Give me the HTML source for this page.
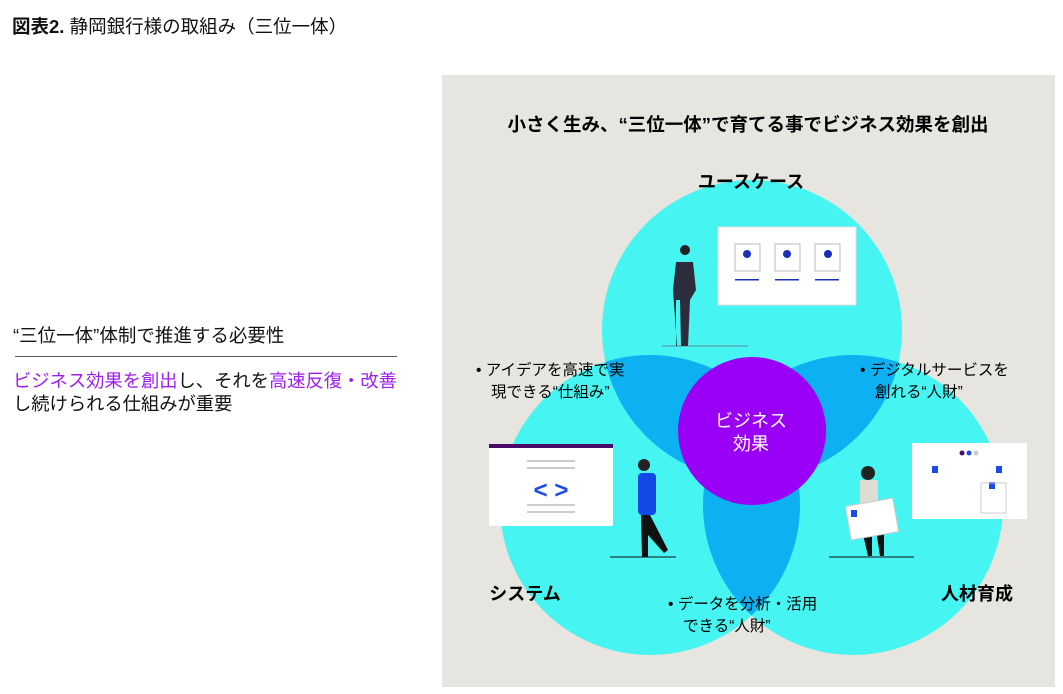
<!DOCTYPE html>
<html><head><meta charset="utf-8"><style>
body{margin:0;width:1063px;height:694px;background:#fff;position:relative;overflow:hidden;font-family:"Liberation Sans","Noto Sans CJK JP",sans-serif;color:#111}
.t{position:absolute;white-space:nowrap}
.p{color:#a01ef0}
</style></head><body>
<div class="t" style="left:12px;top:13px;font-size:18.5px"><b>図表2.</b> 静岡銀行様の取組み（三位一体）</div>
<div class="t" style="left:13px;top:322px;font-size:18.5px">“三位一体”体制で推進する必要性</div>
<div style="position:absolute;left:15px;top:356px;width:382px;height:1px;background:#555"></div>
<div class="t" style="left:13px;top:369px;font-size:18.3px;line-height:23px"><span class="p">ビジネス効果を創出</span>し、それを<span class="p">高速反復・改善</span><br>し続けられる仕組みが重要</div>
<svg style="position:absolute;left:0;top:0" width="1063" height="694">
<defs>
<clipPath id="cT"><circle cx="752" cy="330" r="150"/></clipPath>
<clipPath id="cL"><circle cx="650" cy="505" r="150"/></clipPath>
<clipPath id="cR"><circle cx="853" cy="505" r="150"/></clipPath>
</defs>
<rect x="442" y="75" width="613" height="612" fill="#e6e5df"/>
<circle cx="752" cy="330" r="150" fill="#46f5f2"/>
<circle cx="650" cy="505" r="150" fill="#46f5f2"/>
<circle cx="853" cy="505" r="150" fill="#46f5f2"/>
<g clip-path="url(#cT)"><circle cx="650" cy="505" r="150" fill="#0db1f2"/><circle cx="853" cy="505" r="150" fill="#0db1f2"/></g>
<g clip-path="url(#cL)"><circle cx="853" cy="505" r="150" fill="#0db1f2"/></g>
<circle cx="752" cy="431" r="74" fill="#9a00f5"/>
<text x="751" y="427" text-anchor="middle" fill="#fff" font-size="18">ビジネス</text>
<text x="751" y="450" text-anchor="middle" fill="#fff" font-size="18">効果</text>
<text x="748" y="131" text-anchor="middle" font-size="18.5" font-weight="bold">小さく生み、“三位一体”で育てる事でビジネス効果を創出</text>
<text x="751" y="188" text-anchor="middle" font-size="18" font-weight="bold">ユースケース</text>
<text x="525" y="600" text-anchor="middle" font-size="18" font-weight="bold">システム</text>
<text x="977" y="600" text-anchor="middle" font-size="18" font-weight="bold">人材育成</text>
<g font-size="15.5">
<text x="476" y="375">•  アイデアを高速で実</text><text x="491" y="397">現できる“仕組み”</text>
<text x="860" y="375">•  デジタルサービスを</text><text x="875" y="397">創れる“人財”</text>
<text x="668" y="609">•  データを分析・活用</text><text x="683" y="631">できる“人財”</text>
</g>
<!-- top illustration -->
<rect x="718" y="227" width="138" height="78" fill="#fff" stroke="#ddd"/>
<g fill="#fff" stroke="#bbb"><rect x="735" y="244" width="25" height="27"/><rect x="775" y="244" width="25" height="27"/><rect x="815" y="244" width="25" height="27"/></g>
<g fill="#1a2fb8"><circle cx="747" cy="254" r="4"/><circle cx="787" cy="254" r="4"/><circle cx="828" cy="254" r="4"/>
<rect x="735" y="279" width="24" height="1.5"/><rect x="775" y="279" width="24" height="1.5"/><rect x="815" y="279" width="24" height="1.5"/></g>
<line x1="662" y1="346" x2="748" y2="346" stroke="#5a8a9a"/>
<path d="M676 262 L693 262 L696 290 L690 300 L688 346 L681 346 L680 300 L676 300 L676 346 L677 346 L673 290 Z" fill="#2c2c3c"/>
<circle cx="685" cy="250" r="5" fill="#222"/>
<!-- left -->
<rect x="489" y="444" width="124" height="82" rx="2" fill="#fff"/>
<rect x="489" y="444" width="124" height="4" fill="#4a0a6a"/>
<text x="551" y="498" text-anchor="middle" fill="#1a4ae8" font-size="24" font-weight="bold">&lt; &gt;</text>
<g fill="#ccc"><rect x="527" y="460" width="48" height="2"/><rect x="527" y="467" width="48" height="2"/><rect x="527" y="504" width="48" height="2"/><rect x="527" y="511" width="48" height="2"/></g>
<line x1="610" y1="557" x2="676" y2="557" stroke="#111"/>
<rect x="638" y="473" width="18" height="42" rx="4" fill="#1148e6"/>
<circle cx="644" cy="465" r="6" fill="#222"/>
<path d="M641 515 L650 515 L668 550 L664 553 L648 535 L648 557 L642 557 Z" fill="#111"/>
<!-- right -->
<rect x="912" y="443" width="115" height="76" fill="#fff"/>
<g fill="#1a4ae8"><circle cx="962" cy="453" r="2.5" fill="#4a0a6a"/><circle cx="969" cy="453" r="2.5"/><rect x="932" y="466" width="6" height="7"/><rect x="996" y="466" width="6" height="7"/><rect x="989" y="482" width="6" height="7"/></g>
<circle cx="976" cy="453" r="2.5" fill="#ccc"/>
<rect x="981" y="483" width="25" height="30" fill="none" stroke="#ccc"/>
<line x1="829" y1="557" x2="914" y2="557" stroke="#111"/>
<circle cx="868" cy="473" r="7" fill="#222"/>
<rect x="860" y="480" width="18" height="30" fill="#ddddd4"/>
<path d="M862 530 L872 530 L872 556 L868 556 Z M876 530 L884 530 L884 556 L880 556 Z" fill="#111"/>
<rect x="848" y="502" width="48" height="34" fill="#fff" stroke="#ccc" transform="rotate(-10 872 519)"/>
<rect x="851" y="510" width="6" height="7" fill="#1a4ae8"/>
</svg>
</body></html>
